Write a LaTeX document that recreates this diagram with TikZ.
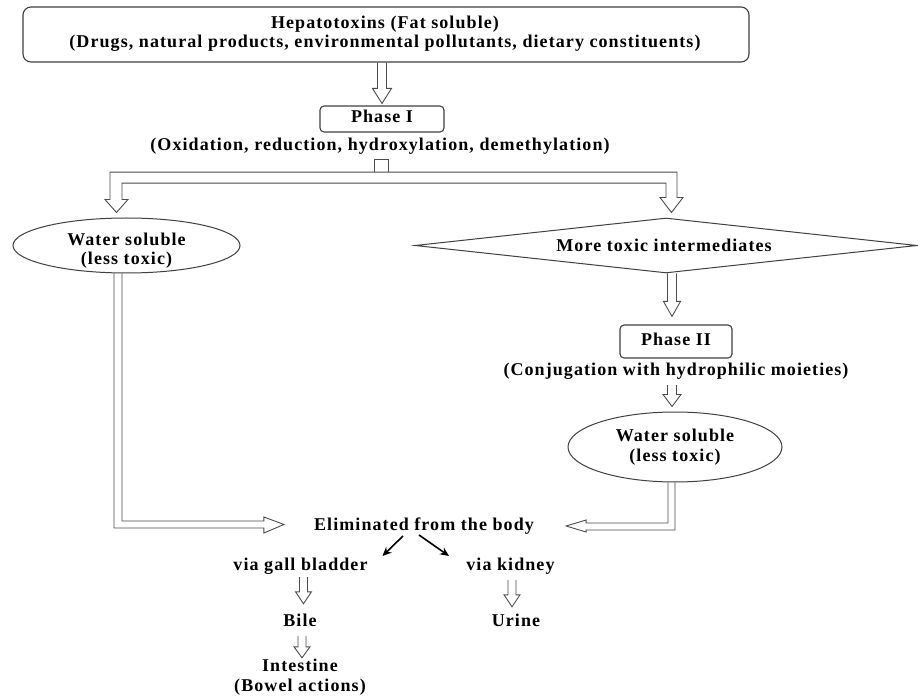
\documentclass[tikz,border=0pt]{standalone}
\usepackage{fontspec}
\setmainfont{Liberation Serif}[LetterSpace=6]
\usetikzlibrary{shapes.geometric,arrows.meta,calc}
\newcommand\lab{\fontsize{18}{20}\selectfont\bfseries}
% hollow block arrow pointing down: start, tip, shaft half width, head half width, head length
\newcommand\hollowdown[5]{%
  \draw[hol] let \p1=#1, \p2=#2 in
    ({\x1-#3},\y1) -- ({\x1-#3},{\y2+#5}) -- ({\x1-#4},{\y2+#5}) -- (\x1,\y2)
    -- ({\x1+#4},{\y2+#5}) -- ({\x1+#3},{\y2+#5}) -- ({\x1+#3},\y1);}
\begin{document}
\begin{tikzpicture}[x=1pt,y=-1pt,
  txt/.style={inner sep=0pt,text height=12pt,text depth=4pt,font=\lab},
  box/.style={draw=black!75,line width=1.1pt,rounded corners=#1,inner sep=0pt},
  box/.default=4pt,
  shp/.style={draw=black!75,line width=1pt,inner sep=0pt},
  hol/.style={draw=black!70,line width=0.9pt,line join=miter},
  blk/.style={black,line width=1.6pt,-{Stealth[length=9pt,width=8pt]}}]
\fill[white] (0,0) rectangle (918,700);
\useasboundingbox (0,0) rectangle (918,700);

% top box
\node[box=8pt,minimum width=726pt,minimum height=55pt] (top) at (386,34.5) {};
\node[txt] (hep) at (385,25) {Hepatotoxins (Fat soluble)};
\node[txt] (drugs) at (385,44) {(Drugs, natural products, environmental pollutants, dietary constituents)};

% phase I
\node[box,txt,minimum width=124pt,minimum height=26pt] (phaseone) at (382,119) {Phase I};
\node[txt] (ox) at (380,147) {(Oxidation, reduction, hydroxylation, demethylation)};

% left branch
\node[shp,ellipse,minimum width=227pt,minimum height=55pt] (ws1) at (126.5,245.5) {};
\node[txt] (ws1a) at (126.5,242) {Water soluble};
\node[txt] (ws1b) at (126.5,261) {(less toxic)};

% right branch
\node[shp,diamond,minimum width=502pt,minimum height=55pt] (dia) at (666,245.5) {};
\node[txt] (diat) at (664,248) {More toxic intermediates};
\node[box,txt,minimum width=112pt,minimum height=33pt] (phasetwo) at (676,341.5) {Phase II};
\node[txt] (conj) at (676,372) {(Conjugation with hydrophilic moieties)};
\node[shp,ellipse,minimum width=214pt,minimum height=70pt] (ws2) at (675,447) {};
\node[txt] (ws2a) at (675,437) {Water soluble};
\node[txt] (ws2b) at (675,457) {(less toxic)};

% elimination
\node[txt] (elim) at (424,526) {Eliminated from the body};
\node[txt] (gall) at (300.5,566) {via gall bladder};
\node[txt] (kidney) at (510.5,566) {via kidney};
\node[txt] (bile) at (300,622) {Bile};
\node[txt] (intest) at (300,667) {Intestine};
\node[txt] (bowel) at (300,687) {(Bowel actions)};
\node[txt] (urine) at (516,622) {Urine};

% hollow arrows
\hollowdown{(phaseone.north |- top.south)}{([yshift=2pt]phaseone.north)}{4.5pt}{9.5pt}{15pt}
\hollowdown{([xshift=6pt]dia.south)}{([yshift=8pt]phasetwo.north)}{4.5pt}{8.5pt}{15pt}
\hollowdown{([xshift=-4pt,yshift=-5pt]conj.south)}{([yshift=5pt]ws2.north)}{4.5pt}{9pt}{12pt}
\hollowdown{([xshift=3pt,yshift=-3pt]gall.south)}{([yshift=10pt]bile.north)}{4pt}{8pt}{12pt}
\hollowdown{([xshift=2pt,yshift=-6pt]bile.south)}{([yshift=1pt]intest.north)}{4pt}{8pt}{11pt}
\hollowdown{([xshift=1.5pt,yshift=-6pt]kidney.south)}{([yshift=7pt]urine.north)}{4pt}{8pt}{12pt}

% split after phase I
\draw[hol] let \p1=(ox.south) in
  ({\x1-6pt},{\y1-17pt}) -- ({\x1-6pt},{\y1-4pt}) -- ({\x1+8pt},{\y1-4pt}) -- ({\x1+8pt},{\y1-17pt});
\draw[hol] let \p1=(ox.south), \p2=(ws1.north), \p3=(dia.north) in
  ({\x2-16.5pt},{\y1-17pt}) -- ({\x3+11pt},{\y1-17pt}) -- ({\x3+11pt},{\y3+20pt})
  -- ({\x3+17pt},{\y3+20pt}) -- ({\x3+5.5pt},{\y3+5pt}) -- ({\x3-6pt},{\y3+20pt})
  -- (\x3,{\y3+20pt}) -- (\x3,{\y1-28pt}) -- ({\x2-4.5pt},{\y1-28pt})
  -- ({\x2-4.5pt},{\y2+18pt}) -- ({\x2+1.5pt},{\y2+18pt}) -- ({\x2-10pt},{\y2+5pt})
  -- ({\x2-21.5pt},{\y2+18pt}) -- ({\x2-16.5pt},{\y2+18pt}) -- cycle;

% elbow connectors into the elimination label
\draw[hol] let \p1=(ws1.south), \p2=(elim.west) in
  ({\x1-12.5pt},\y1) -- ({\x1-12.5pt},{\y2-2pt}) -- ({\x2-50pt},{\y2-2pt})
  -- ({\x2-50pt},{\y2-7pt}) -- ({\x2-30pt},{\y2+1.5pt}) -- ({\x2-50pt},{\y2+9pt})
  -- ({\x2-50pt},{\y2+5pt}) -- ({\x1-4.5pt},{\y2+5pt}) -- ({\x1-4.5pt},\y1);
\draw[hol] let \p1=(ws2.south), \p2=(elim.east) in
  ({\x1-7pt},\y1) -- ({\x1-7pt},{\y2+3pt}) -- ({\x2+52pt},{\y2+3pt})
  -- ({\x2+52pt},{\y2+6pt}) -- ({\x2+32pt},\y2) -- ({\x2+52pt},{\y2-6pt})
  -- ({\x2+52pt},{\y2-4pt}) -- (\x1,{\y2-4pt}) -- (\x1,\y1);

% routes out of the body
\draw[blk] ([shift={(-21,10)}]elim.center) -- ([shift={(82,-10)}]gall.center);
\draw[blk] ([shift={(-5,9)}]elim.center) -- ([shift={(-61.5,-10)}]kidney.center);
\end{tikzpicture}
\end{document}
